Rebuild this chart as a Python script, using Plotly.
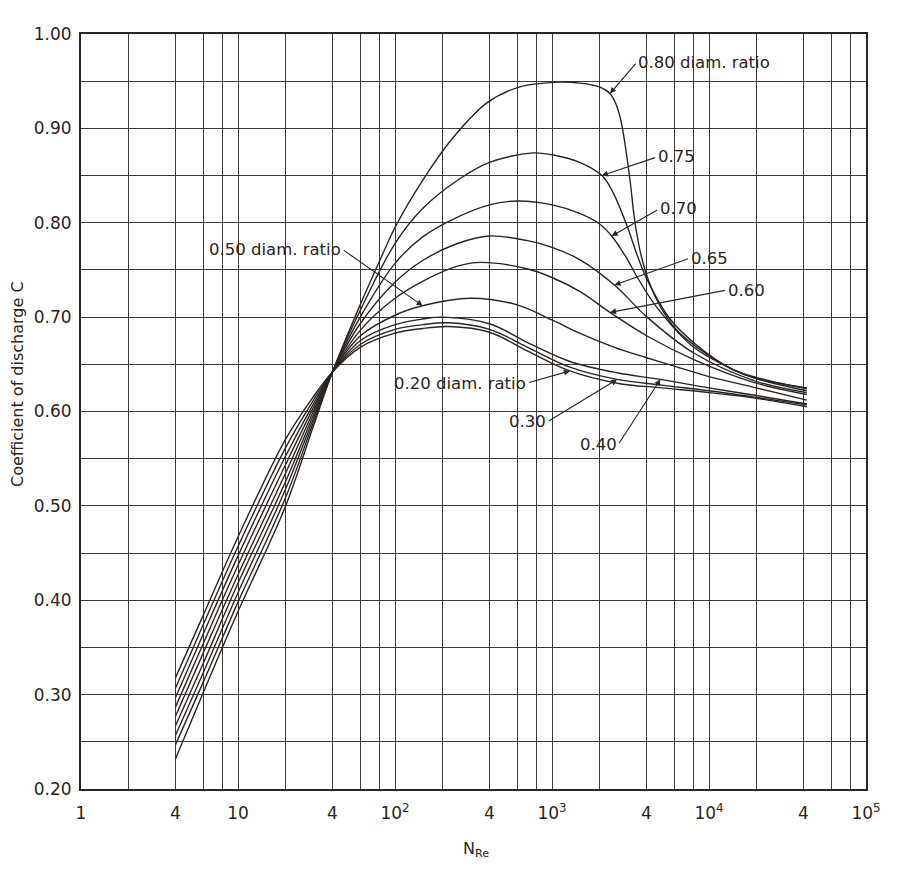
import math
import plotly.graph_objects as go

# ---------------- data ----------------
re_020 = [4, 6, 10, 20, 30, 40, 60, 100, 150, 220, 400, 700, 1300, 2600, 5000, 10000, 20000, 42000]
c_020 = [0.318, 0.384, 0.467, 0.570, 0.615, 0.642, 0.668, 0.683, 0.688, 0.690, 0.684, 0.664, 0.643, 0.630, 0.625, 0.620, 0.614, 0.605]

re_030 = [4, 6, 10, 20, 30, 40, 60, 100, 150, 220, 400, 700, 1300, 2600, 5000, 10000, 20000, 42000]
c_030 = [0.307, 0.374, 0.457, 0.561, 0.611, 0.642, 0.671, 0.687, 0.692, 0.694, 0.687, 0.668, 0.647, 0.634, 0.628, 0.622, 0.615, 0.607]

re_040 = [4, 6, 10, 20, 30, 40, 60, 100, 150, 200, 400, 700, 1300, 2600, 4900, 10000, 20000, 42000]
c_040 = [0.297, 0.364, 0.447, 0.552, 0.607, 0.642, 0.675, 0.692, 0.698, 0.700, 0.693, 0.673, 0.653, 0.641, 0.634, 0.625, 0.617, 0.608]

re_050 = [4, 6, 10, 20, 30, 40, 60, 100, 150, 300, 600, 1000, 1500, 2500, 4000, 6000, 10000, 20000, 42000]
c_050 = [0.287, 0.354, 0.437, 0.543, 0.603, 0.642, 0.680, 0.702, 0.712, 0.720, 0.713, 0.697, 0.683, 0.668, 0.657, 0.648, 0.637, 0.625, 0.612]

re_060 = [4, 6, 10, 20, 30, 40, 60, 100, 150, 250, 350, 700, 1000, 1510, 2340, 4030, 8000, 20000, 42000]
c_060 = [0.277, 0.344, 0.427, 0.534, 0.599, 0.642, 0.686, 0.720, 0.738, 0.754, 0.758, 0.751, 0.742, 0.727, 0.705, 0.680, 0.655, 0.630, 0.618]

re_065 = [4, 6, 10, 20, 30, 40, 60, 100, 150, 250, 400, 700, 1000, 1500, 2500, 4030, 8000, 20000, 42000]
c_065 = [0.267, 0.333, 0.418, 0.525, 0.595, 0.642, 0.693, 0.737, 0.760, 0.778, 0.786, 0.781, 0.774, 0.761, 0.734, 0.700, 0.662, 0.632, 0.620]

re_070 = [4, 6, 10, 20, 30, 40, 60, 100, 150, 250, 400, 600, 1000, 1500, 2000, 2400, 3000, 3500, 4670, 8000, 14000, 20000, 42000]
c_070 = [0.257, 0.323, 0.408, 0.517, 0.591, 0.642, 0.700, 0.757, 0.785, 0.806, 0.819, 0.823, 0.819, 0.810, 0.799, 0.786, 0.762, 0.742, 0.710, 0.668, 0.645, 0.635, 0.622]

re_075 = [4, 6, 10, 20, 30, 40, 60, 100, 150, 250, 400, 760, 1000, 1500, 2080, 2450, 3000, 3500, 4030, 5650, 8400, 14000, 20000, 42000]
c_075 = [0.247, 0.313, 0.398, 0.508, 0.587, 0.642, 0.707, 0.778, 0.815, 0.845, 0.864, 0.874, 0.872, 0.864, 0.850, 0.832, 0.797, 0.765, 0.740, 0.698, 0.670, 0.645, 0.636, 0.624]

re_080 = [4, 6, 10, 20, 30, 40, 60, 80, 100, 150, 234, 385, 625, 1100, 1500, 2000, 2340, 2550, 2750, 2920, 3140, 3380, 3700, 4200, 4870, 6250, 8400, 14000, 20000, 42000]
c_080 = [0.232, 0.302, 0.388, 0.499, 0.583, 0.642, 0.713, 0.760, 0.795, 0.845, 0.890, 0.927, 0.944, 0.949, 0.948, 0.944, 0.937, 0.926, 0.908, 0.883, 0.845, 0.800, 0.765, 0.735, 0.712, 0.686, 0.668, 0.645, 0.635, 0.625]

curve_names = ["0.20", "0.30", "0.40", "0.50", "0.60", "0.65", "0.70", "0.75", "0.80"]
curve_re = [re_020, re_030, re_040, re_050, re_060, re_065, re_070, re_075, re_080]
curve_c = [c_020, c_030, c_040, c_050, c_060, c_065, c_070, c_075, c_080]

x_tick_vals = [1, 4, 10, 40, 100, 400, 1000, 4000, 10000, 40000, 100000]
x_tick_text = ["1", "4", "10", "4", "10<sup>2</sup>", "4", "10<sup>3</sup>", "4", "10<sup>4</sup>", "4", "10<sup>5</sup>"]
x_minor_vals = [2, 6, 8, 20, 60, 80, 200, 600, 800, 2000, 6000, 8000, 20000, 60000, 80000]
y_tick_vals = [0.20, 0.30, 0.40, 0.50, 0.60, 0.70, 0.80, 0.90, 1.00]
y_tick_text = ["0.20", "0.30", "0.40", "0.50", "0.60", "0.70", "0.80", "0.90", "1.00"]
y_minor_vals = [0.25, 0.35, 0.45, 0.55, 0.65, 0.75, 0.85, 0.95]

# ---------------- layout constants ----------------
W, H = 916, 892
ML, MR, MT, MB = 81, 50, 34, 103
PW, PH = W - ML - MR, H - MT - MB
X0, X1 = 0, 5
Y0, Y1 = 0.20, 1.00
INK = "#2b2522"
GRID = "#3f3934"
FONT = "DejaVu Sans"


def to_px(re, c):
    xp = ML + (math.log10(re) - X0) / (X1 - X0) * PW
    yp = MT + (Y1 - c) / (Y1 - Y0) * PH
    return xp, yp


def paper(xp, yp):
    return (xp - ML) / PW, (H - MB - yp) / PH


fig = go.Figure()
for name, xs, ys in zip(curve_names, curve_re, curve_c):
    fig.add_trace(go.Scatter(x=xs, y=ys, mode="lines", name=name,
                             line=dict(color=INK, width=1.4, shape="spline", smoothing=1.0),
                             showlegend=False, hoverinfo="skip"))

annotations = []

# labelled arrows: (text, curve index, Re of head, tail px, anchor)
arrow_labels = [
    ("0.80 diam. ratio", 8, 2340, (637, 62), "left"),
    ("0.75", 7, 2080, (657, 157), "left"),
    ("0.70", 6, 2400, (659, 209), "left"),
    ("0.65", 5, 2500, (690, 258), "left"),
    ("0.60", 4, 2340, (727, 290), "left"),
    ("0.50 diam. ratio", 3, 150, (342, 249), "right"),
    ("0.20 diam. ratio", 0, 1300, (527, 383), "right"),
    ("0.30", 1, 2600, (547, 422), "right"),
    ("0.40", 2, 4900, (618, 445), "right"),
]
for txt, ci, re_head, (tx, ty), anchor in arrow_labels:
    pi = curve_re[ci].index(re_head)
    re_v, c_v = curve_re[ci][pi], curve_c[ci][pi]
    hx, hy = to_px(re_v, c_v)
    annotations.append(dict(text=txt, x=math.log10(re_v), y=c_v, xref="x", yref="y",
                            showarrow=True, ax=tx - hx, ay=ty - hy,
                            xanchor=anchor, yanchor="middle",
                            arrowhead=2, arrowsize=1.1, arrowwidth=1.1, arrowcolor=INK,
                            standoff=0, startstandoff=2, borderpad=0,
                            font=dict(family=FONT, size=16.5, color=INK)))

# axis titles
tx_, ty_ = paper(17, 384)
annotations.append(dict(text="Coefficient of discharge C", x=tx_, y=ty_, xref="paper", yref="paper",
                        textangle=-90, showarrow=False, xanchor="center", yanchor="middle",
                        font=dict(family=FONT, size=16, color=INK)))
tx_, ty_ = paper(476, 849)
annotations.append(dict(text="N<sub>Re</sub>", x=tx_, y=ty_, xref="paper", yref="paper",
                        showarrow=False, xanchor="center", yanchor="middle",
                        font=dict(family=FONT, size=16, color=INK)))

fig.update_layout(
    width=W, height=H,
    margin=dict(l=ML, r=MR, t=MT, b=MB, pad=0),
    paper_bgcolor="white", plot_bgcolor="white",
    font=dict(family=FONT, size=17, color=INK),
    annotations=annotations,
    xaxis=dict(type="log", range=[X0, X1], tickmode="array", tickvals=x_tick_vals, ticktext=x_tick_text,
               showgrid=True, gridcolor=GRID, gridwidth=1.2, zeroline=False,
               minor=dict(tickmode="array", tickvals=x_minor_vals, showgrid=True,
                          gridcolor=GRID, gridwidth=1.2, ticks=""),
               showline=True, mirror=True, linecolor=INK, linewidth=2, ticks="",
               ticklabelstandoff=8,
               tickfont=dict(family=FONT, size=17, color=INK)),
    yaxis=dict(range=[Y0, Y1], tickmode="array", tickvals=y_tick_vals, ticktext=y_tick_text,
               showgrid=True, gridcolor=GRID, gridwidth=1.2, zeroline=False,
               minor=dict(tickmode="array", tickvals=y_minor_vals, showgrid=True,
                          gridcolor=GRID, gridwidth=1.2, ticks=""),
               showline=True, mirror=True, linecolor=INK, linewidth=2, ticks="",
               ticklabelstandoff=4,
               tickfont=dict(family=FONT, size=17, color=INK)),
)

fig.write_html("out.html")
